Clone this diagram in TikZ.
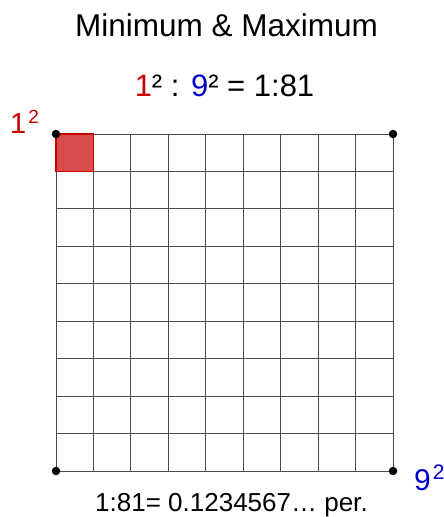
\documentclass[tikz,border=0pt]{standalone}
\usepackage{fontspec}
\setmainfont{Liberation Sans}
\usepackage{tikz}
\usepackage{color}
\definecolor{minred}{RGB}{200,0,0}
\definecolor{maxblue}{RGB}{0,0,200}
\tikzset{gridline/.style={draw=black!70, line width=0.9pt},
  corner/.style={circle, fill=black, inner sep=0pt, minimum size=8.5pt},
  txt/.style={inner sep=0pt, anchor=base}}

\begin{document}
\begin{tikzpicture}[x=1pt, y=-1pt]
\useasboundingbox (0,0) rectangle (444,517);
\def\cell{37.444}
\node[txt] (title) at (226.5,36) {\fontsize{31.5}{36}\selectfont Minimum \& Maximum};
\node[txt] (ratio) at (224.5,96.5) {\fontsize{31}{36}\selectfont \textcolor{minred}{1}² : \textcolor{maxblue}{9}² = 1:81};
\fill[minred!70] (56,134) rectangle ++(\cell,\cell);
\foreach \i in {0,...,9}{
  \draw[gridline] (56+\i*\cell,134) -- (56+\i*\cell,471);
  \draw[gridline] (56,134+\i*\cell) -- (393,134+\i*\cell);
}
\draw[minred, line width=1.6pt] (56,134) rectangle ++(\cell,\cell);
\node[corner] (tl) at (56,134) {};
\node[corner] (tr) at (393,134) {};
\node[corner] (bl) at (56,471) {};
\node[corner] (br) at (393,471) {};
\node[txt, anchor=base west, text=minred] (one) at (10,133) {\fontsize{29}{30}\selectfont 1\hspace{2pt}\raisebox{9.5pt}{\fontsize{19}{19}\selectfont 2}};
\node[txt, anchor=base west, text=maxblue] (nine) at (414,490.5) {\fontsize{30}{32}\selectfont 9\hspace{2pt}\raisebox{11pt}{\fontsize{21}{21}\selectfont 2}};
\node[txt] (per) at (231.5,511) {\fontsize{26}{30}\selectfont 1:81= 0.1234567… per.};
\end{tikzpicture}
\end{document}
